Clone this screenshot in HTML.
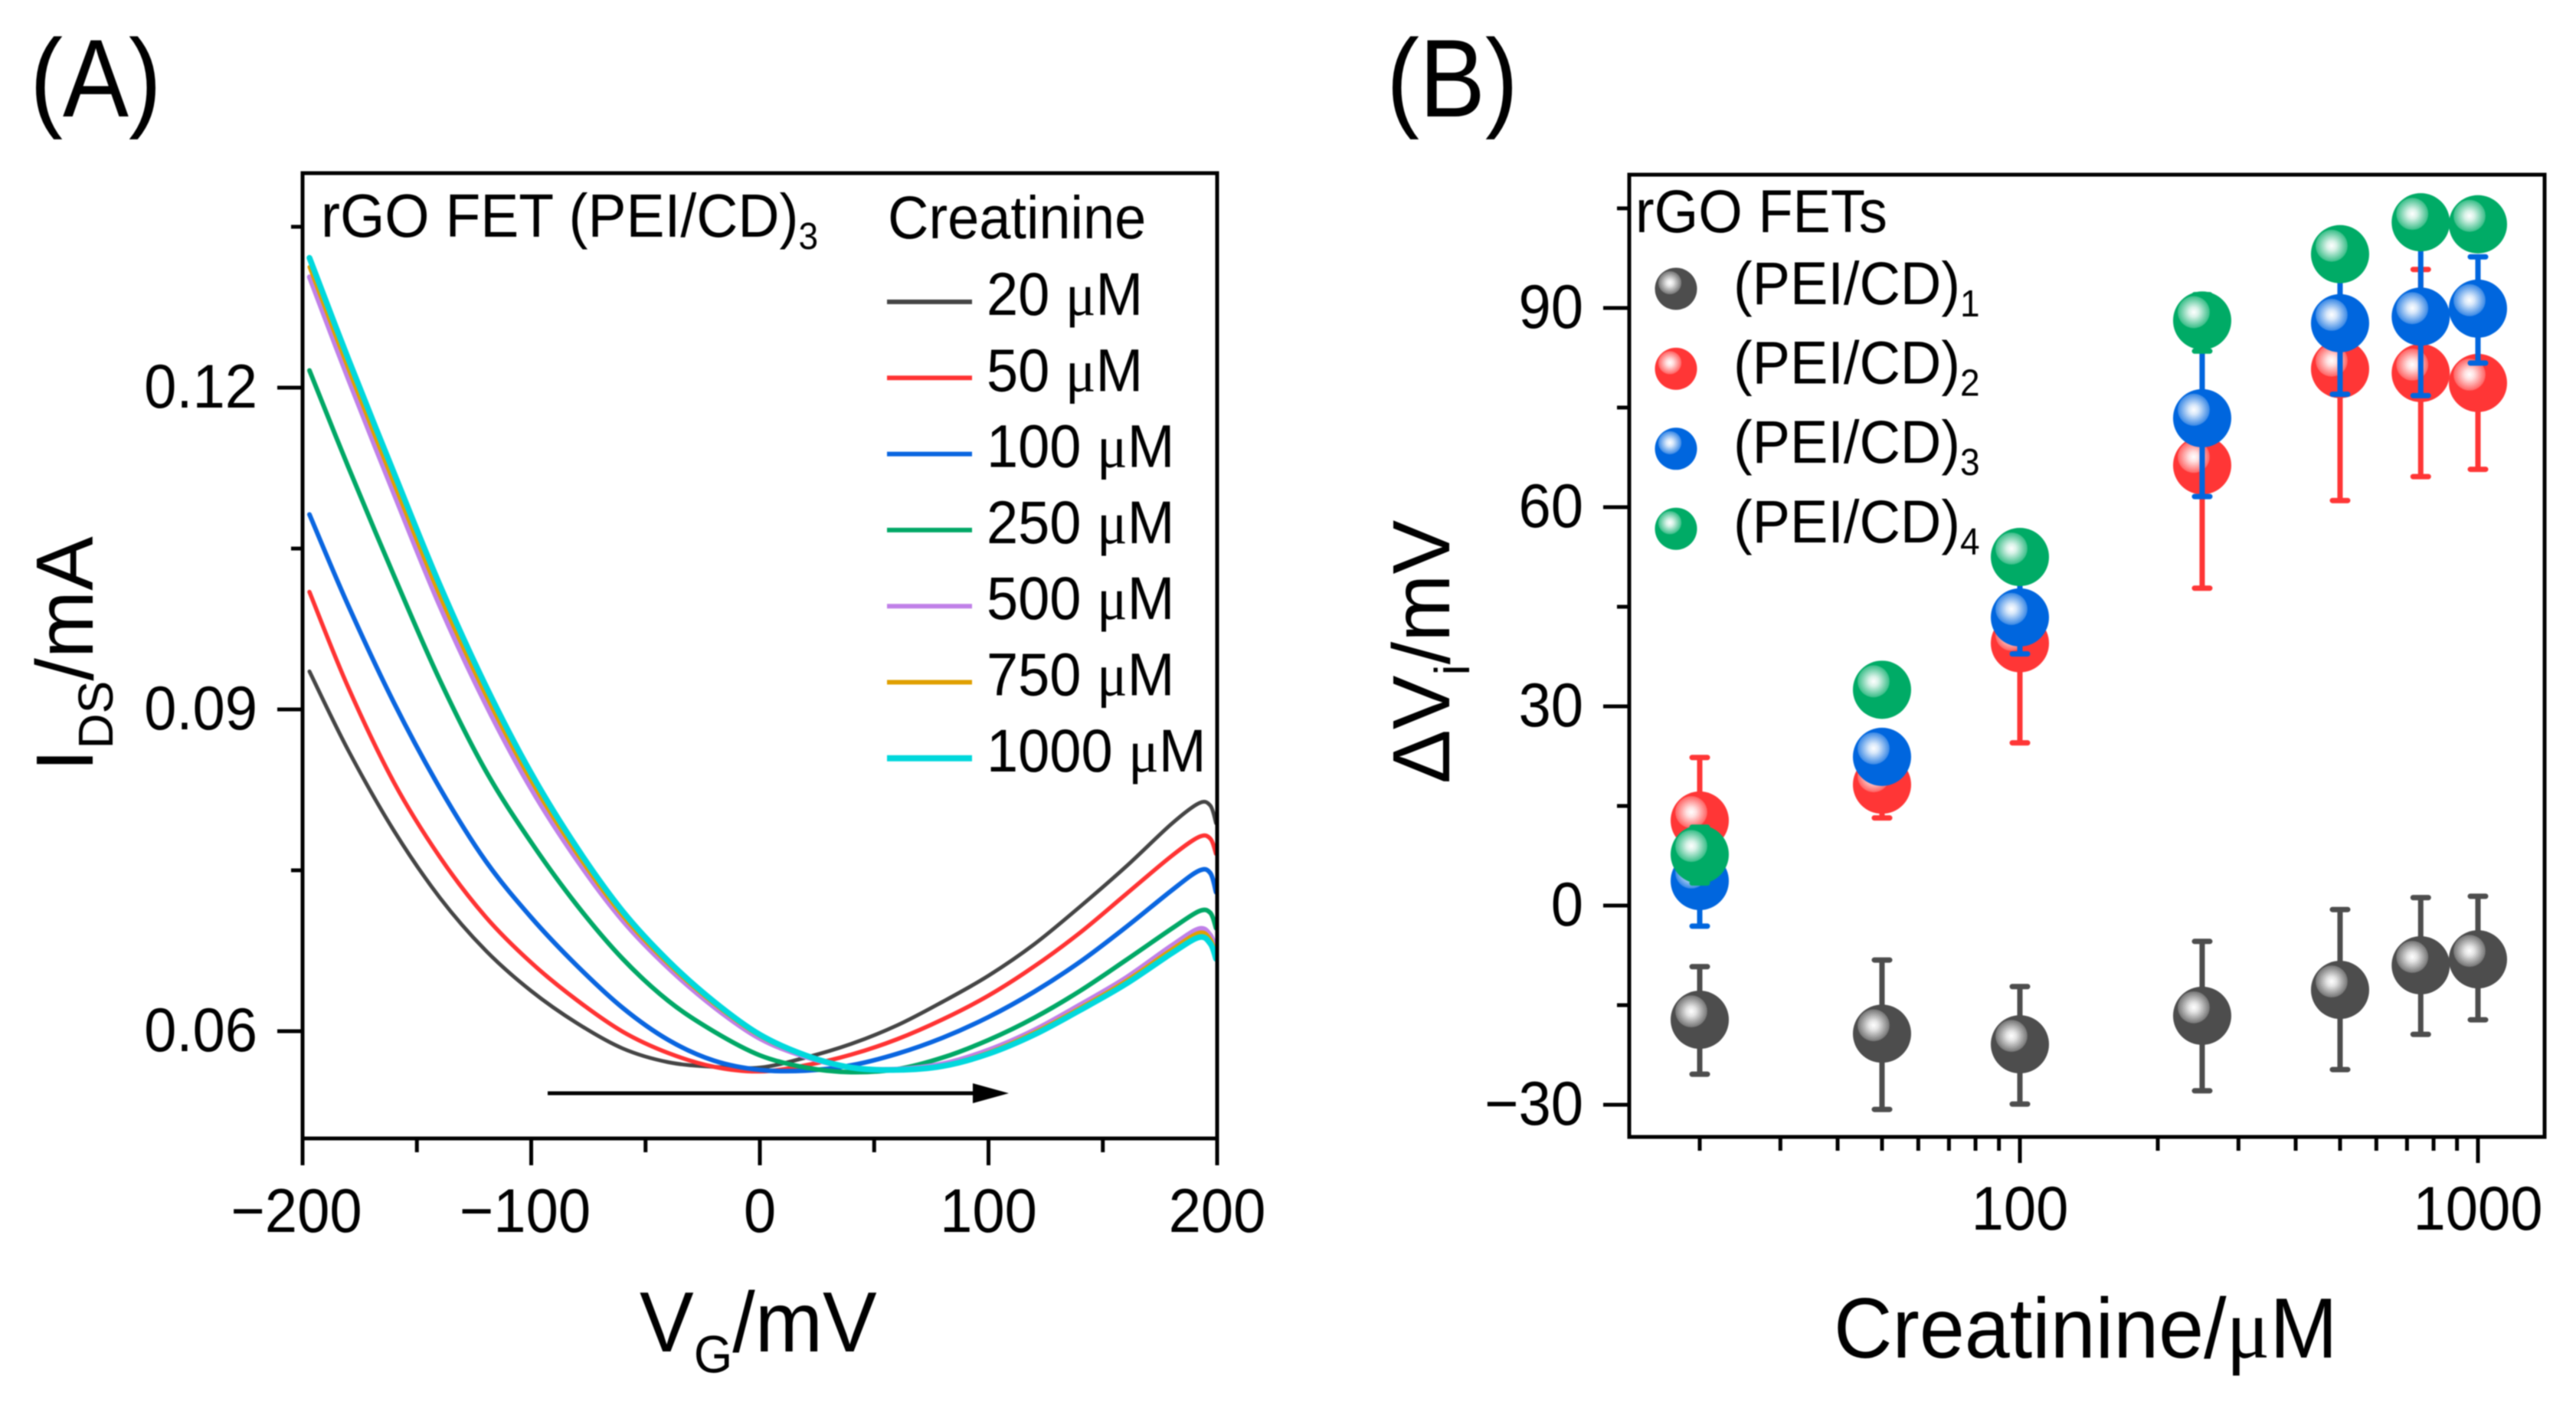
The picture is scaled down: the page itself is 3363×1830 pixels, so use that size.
<!DOCTYPE html>
<html lang="en">
<head>
<meta charset="utf-8">
<title>rGO FET creatinine response</title>
<style>
html,body{margin:0;padding:0;background:#fff;}
svg{display:block;font-family:"Liberation Sans",sans-serif;fill:#000;filter:blur(0.9px);}
.tick{font-size:76px;}
.leg{font-size:74px;}
.title{font-size:106px;}
.panel{font-size:129px;}
.mu{font-family:"Liberation Serif",serif;}
</style>
</head>
<body>
<svg id="fig" xmlns="http://www.w3.org/2000/svg" width="3363" height="1830" viewBox="0 0 3363 1830">
  <defs>
    <radialGradient id="shine">
      <stop offset="0" stop-color="#fff" stop-opacity="1"/>
      <stop offset="0.3" stop-color="#fff" stop-opacity="0.85"/>
      <stop offset="1" stop-color="#fff" stop-opacity="0.22"/>
    </radialGradient>
  </defs>
  <rect width="3363" height="1830" fill="#fff"/>

  <text class="panel" transform="translate(39,152) scale(1,1.12)">(A)</text>
  <text class="panel" transform="translate(1810,152) scale(1,1.12)">(B)</text>

  <g id="curvesA" fill="none" stroke-linejoin="round" stroke-linecap="round"></g>
  <rect x="395" y="226" width="1194" height="1260" fill="none" stroke="#000" stroke-width="5"/>
  <g id="ticksA"></g>
  <g>
    <line x1="715" y1="1427" x2="1275" y2="1427" stroke="#000" stroke-width="5"/>
    <polygon points="1270,1414 1317,1427 1270,1440" fill="#000"/>
  </g>
  <text transform="translate(419,309) scale(1,1.06)" font-size="75">rGO FET (PEI/CD)<tspan font-size="46" dy="15">3</tspan></text>
  <text class="leg" transform="translate(1159,311) scale(1,1.06)">Creatinine</text>
  <g id="legendA"></g>

  <text class="title" transform="translate(835,1764) scale(1,1.05)" font-size="108">V<tspan font-size="65" dy="26">G</tspan><tspan dy="-26">/mV</tspan></text>
  <text class="title" transform="translate(121,1007) rotate(-90)" font-size="106">I<tspan font-size="64" dy="26">DS</tspan><tspan dy="-26">/mA</tspan></text>

  <g id="marksB"></g>
  <rect x="2127" y="228" width="1195" height="1256" fill="none" stroke="#000" stroke-width="5"/>
  <g id="ticksB"></g>
  <text class="leg" transform="translate(2135,303) scale(1,1.06)">rGO FETs</text>
  <g id="legendB"></g>

  <text class="title" transform="translate(2394,1772) scale(1,1.05)">Creatinine/<tspan class="mu">μ</tspan>M</text>
  <text class="title" transform="translate(1892,1023) rotate(-90)">ΔV<tspan font-size="64" dy="26">i</tspan><tspan dy="-26">/mV</tspan></text>
</svg>

<script>
// ---------- Panel A data ----------
const gateVoltages = [-197,-180,-160,-140,-120,-100,-80,-60,-40,-20,0,20,40,60,80,100,120,140,160,180,192,197,199.5];
const concentrationLabels = ["20","50","100","250","500","750","1000"];
const current20 = [.09354,.08618,.07868,.07246,.06754,.06375,.06075,.05839,.05711,.05668,.05661,.05754,.05882,.06054,.06275,.06518,.06811,.07161,.07532,.07932,.08125,.08104,.07939];
const current50 = [.10096,.09204,.08318,.07625,.07068,.06639,.06289,.05996,.05796,.05668,.05625,.05682,.05782,.05925,.06111,.06332,.06604,.06918,.07275,.07632,.07811,.07796,.07654];
const current100 = [.10818,.09968,.09061,.08268,.07589,.07061,.06611,.06218,.05918,.05725,.05639,.05632,.05682,.05789,.05939,.06132,.06368,.06646,.06968,.07311,.07496,.07475,.07296];
const current250 = [.12161,.11261,.10246,.09275,.08432,.07761,.07175,.06675,.06282,.05996,.05775,.05661,.05618,.05646,.05754,.05918,.06125,.06375,.06661,.06954,.07118,.07104,.06961];
const current500 = [.13032,.12082,.11011,.09968,.09054,.08261,.07597,.07032,.06590,.06225,.05932,.05761,.05661,.05646,.05696,.05825,.06011,.06246,.06496,.06796,.06954,.06897,.06760];
const current750 = [.13125,.12175,.11104,.10061,.09139,.08333,.07654,.07075,.06625,.06254,.05954,.05768,.05661,.05639,.05682,.05803,.05989,.06217,.06468,.06761,.06918,.06861,.06720];
const current1000 = [.13211,.12268,.11204,.10161,.09225,.08404,.07711,.07118,.06654,.06275,.05968,.05775,.05661,.05639,.05675,.05789,.05968,.06196,.06439,.06725,.06875,.06818,.06675];
const xTicksA = [-200,-100,0,100,200];
const xTickLabelsA = ["−200","−100","0","100","200"];
const xMinorTicksA = [-150,-50,50,150];
const yTicksA = [0.06,0.09,0.12];
const yTickLabelsA = ["0.06","0.09","0.12"];
const yMinorTicksA = [0.075,0.105,0.135];

// ---------- Panel B data ----------
const creatinine = [20,50,100,250,500,750,1000];
const seriesLabelsB = ["1","2","3","4"];
const dv1 = [-17.2,-19.3,-20.9,-16.6,-12.7,-9.0,-8.1];
const dv1Upper = [-9.2,-8.2,-12.2,-5.4,-0.6,1.2,1.4];
const dv1Lower = [-25.4,-30.7,-29.9,-27.9,-24.7,-19.4,-17.2];
const dv2 = [12.8,18.2,39.5,66.3,80.8,80.2,78.7];
const dv2Upper = [22.3,23.2,54.5,84.8,100.6,95.8,91.7];
const dv2Lower = [3.3,13.2,24.5,47.8,61.0,64.6,65.7];
const dv3 = [3.7,22.4,43.4,73.4,87.7,88.7,89.9];
const dv3Upper = [10.5,26.0,48.9,88.0,98.4,100.6,97.7];
const dv3Lower = [-3.1,19.0,37.9,61.6,77.0,76.8,81.7];
const dv4 = [7.7,32.5,52.5,88.1,98.1,102.9,102.6];
const dv4Upper = [11.8,35.5,55.5,92.0,101.0,105.5,105.5];
const dv4Lower = [3.4,29.5,49.5,83.5,95.0,100.3,99.7];
const xTicksB = [100,1000];
const xTickLabelsB = ["100","1000"];
const xMinorTicksB = [20,30,40,50,60,70,80,90,200,300,400,500,600,700,800,900];
const yTicksB = [-30,0,30,60,90];
const yTickLabelsB = ["−30","0","30","60","90"];
const yMinorTicksB = [-15,15,45,75,105];

// ---------- Scales ----------
function xA(v){ return 395 + (v + 200) / 400 * 1194; }
function yA(v){ return 226 + (0.14 - v) / 0.09 * 1260; }
function xB(c){ return 2637 + (Math.log10(c) - 2) * 598; }
function yB(v){ return 1182 - v * 8.667; }

// ---------- Helpers ----------
const SVGNS = "http://www.w3.org/2000/svg";
function mk(tag, attrs, parent){
  const e = document.createElementNS(SVGNS, tag);
  for (const k in attrs) e.setAttribute(k, attrs[k]);
  parent.appendChild(e);
  return e;
}
function placeText(x, y){
  return "translate(" + x + "," + y + ") scale(1,1.06)";
}
function smoothPath(pts){
  let d = "M" + pts[0][0].toFixed(1) + " " + pts[0][1].toFixed(1);
  for (let i = 0; i < pts.length - 1; i++){
    const p0 = pts[Math.max(i - 1, 0)], p1 = pts[i], p2 = pts[i + 1], p3 = pts[Math.min(i + 2, pts.length - 1)];
    const c1x = p1[0] + (p2[0] - p0[0]) / 6, c1y = p1[1] + (p2[1] - p0[1]) / 6;
    const c2x = p2[0] - (p3[0] - p1[0]) / 6, c2y = p2[1] - (p3[1] - p1[1]) / 6;
    d += "C" + c1x.toFixed(1) + " " + c1y.toFixed(1) + " " + c2x.toFixed(1) + " " + c2y.toFixed(1) + " " + p2[0].toFixed(1) + " " + p2[1].toFixed(1);
  }
  return d;
}

// ---------- Panel A ----------
const curvesA = document.getElementById("curvesA");
const legendA = document.getElementById("legendA");
const ticksA = document.getElementById("ticksA");
const curveSeries = [current20, current50, current100, current250, current500, current750, current1000];
const curveColors = ["#454545","#ff3333","#0a66e0","#00a866","#c080e8","#e0a000","#00d8dc"];
const curveWidths = [5,5.5,6,6,6.5,5,7.5];

curveSeries.forEach(function(vals, s){
  const pts = vals.map(function(v, i){ return [xA(gateVoltages[i]), yA(v)]; });
  const path = mk("path", {d: smoothPath(pts), stroke: curveColors[s], "stroke-width": curveWidths[s]}, curvesA);
  
  

  const ly = 394 + s * 99.3;
  const swatch = mk("line", {x1: 1158, x2: 1269, y1: ly, y2: ly, stroke: curveColors[s], "stroke-width": s === 6 ? 8 : 6}, legendA);
  
  

  const label = mk("text", {transform: placeText(1288, ly + 17), "class": "leg"}, legendA);
  
  
  label.appendChild(document.createTextNode(concentrationLabels[s] + " "));
  const mu = mk("tspan", {"class": "mu"}, label);
  mu.textContent = "μ";
  label.appendChild(document.createTextNode("M"));
});

xTicksA.forEach(function(v, i){
  const t = mk("line", {x1: xA(v), x2: xA(v), y1: 1486, y2: 1521, stroke: "#000", "stroke-width": 5}, ticksA);
  
  
  const lab = mk("text", {transform: placeText(xA(v) + (v < 0 ? -8 : 0), 1608), "text-anchor": "middle", "class": "tick"}, ticksA);
  
  
  lab.textContent = xTickLabelsA[i];
});
xMinorTicksA.forEach(function(v){
  const t = mk("line", {x1: xA(v), x2: xA(v), y1: 1486, y2: 1504, stroke: "#000", "stroke-width": 5}, ticksA);
  
  
});
yTicksA.forEach(function(v, i){
  const t = mk("line", {x1: 362, x2: 395, y1: yA(v), y2: yA(v), stroke: "#000", "stroke-width": 5}, ticksA);
  
  
  const lab = mk("text", {transform: placeText(336, yA(v) + 26), "text-anchor": "end", "class": "tick"}, ticksA);
  
  
  lab.textContent = yTickLabelsA[i];
});
yMinorTicksA.forEach(function(v){
  const t = mk("line", {x1: 380, x2: 395, y1: yA(v), y2: yA(v), stroke: "#000", "stroke-width": 5}, ticksA);
  
  
});

// ---------- Panel B ----------
const marksB = document.getElementById("marksB");
const legendB = document.getElementById("legendB");
const ticksB = document.getElementById("ticksB");
const pointSeries = [dv1, dv2, dv3, dv4];
const upperSeries = [dv1Upper, dv2Upper, dv3Upper, dv4Upper];
const lowerSeries = [dv1Lower, dv2Lower, dv3Lower, dv4Lower];
const pointColors = ["#4d4d4d","#ff3636","#0066de","#00ab66"];

function sphere(parent, cx, cy, r, color, name){
  const g = mk("g", {}, parent);
  
  
  mk("circle", {cx: cx, cy: cy, r: r, fill: color}, g);
  mk("circle", {cx: cx - r * 0.29, cy: cy - r * 0.29, r: r * 0.55, fill: "url(#shine)"}, g);
  return g;
}

pointSeries.forEach(function(vals, s){
  const group = mk("g", {}, marksB);
  
  
  vals.forEach(function(v, i){
    const x = xB(creatinine[i]);
    const up = yB(upperSeries[s][i]), lo = yB(lowerSeries[s][i]);
    const bar = mk("path", {d: "M" + x + " " + up + "V" + lo + "M" + (x - 10) + " " + up + "H" + (x + 10) + "M" + (x - 10) + " " + lo + "H" + (x + 10), fill: "none", stroke: pointColors[s], "stroke-width": 7, "stroke-linecap": "round"}, group);
    
    
    sphere(group, x, yB(v), 38, pointColors[s], 'data-point');
  });

  const ly = 377 + s * 104.4;
  sphere(legendB, 2188, ly, 27.5, pointColors[s], 'legend-marker-' + seriesLabelsB[s]);
  const lab = mk("text", {transform: placeText(2263, 397 + s * 103.6), "class": "leg"}, legendB);
  
  
  lab.appendChild(document.createTextNode("(PEI/CD)"));
  const sub = mk("tspan", {"font-size": 46, dy: 15}, lab);
  sub.textContent = seriesLabelsB[s];
});

xTicksB.forEach(function(v, i){
  const t = mk("line", {x1: xB(v), x2: xB(v), y1: 1484, y2: 1518, stroke: "#000", "stroke-width": 5}, ticksB);
  
  
  const lab = mk("text", {transform: placeText(xB(v), 1605), "text-anchor": "middle", "class": "tick"}, ticksB);
  
  
  lab.textContent = xTickLabelsB[i];
});
xMinorTicksB.forEach(function(v){
  const t = mk("line", {x1: xB(v), x2: xB(v), y1: 1484, y2: 1502, stroke: "#000", "stroke-width": 5}, ticksB);
  
  
});
yTicksB.forEach(function(v, i){
  const t = mk("line", {x1: 2093, x2: 2127, y1: yB(v), y2: yB(v), stroke: "#000", "stroke-width": 5}, ticksB);
  
  
  const lab = mk("text", {transform: placeText(2067, yB(v) + 26), "text-anchor": "end", "class": "tick"}, ticksB);
  
  
  lab.textContent = yTickLabelsB[i];
});
yMinorTicksB.forEach(function(v){
  const t = mk("line", {x1: 2111, x2: 2127, y1: yB(v), y2: yB(v), stroke: "#000", "stroke-width": 5}, ticksB);
  
  
});
</script>
</body>
</html>
